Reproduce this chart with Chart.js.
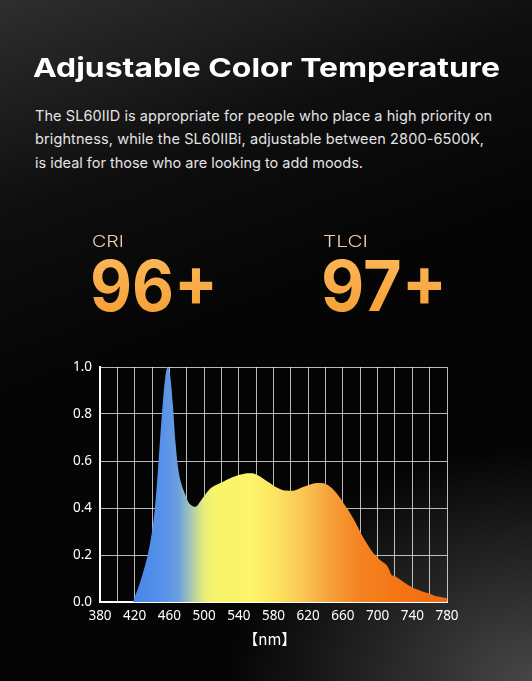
<!DOCTYPE html>
<html>
<head>
<meta charset="utf-8">
<script src="https://cdn.jsdelivr.net/npm/chart.js@4/dist/chart.umd.min.js"></script>
<style>
  html, body { margin: 0; padding: 0; }
  body {
    width: 532px; height: 681px; position: relative; overflow: hidden;
    background:
      linear-gradient(160deg, rgba(48,48,48,0.95) 0%, rgba(20,20,20,0.6) 25%, rgba(0,0,0,0) 45%),
      radial-gradient(ellipse 300px 230px at 100% 100%, rgba(78,78,78,0.9) 0%, rgba(0,0,0,0) 100%),
      #050505;
    font-family: Inter, "Noto Sans", sans-serif;
  }
  .t { position: absolute; white-space: nowrap; line-height: 1; transform-origin: 0 0; }
  #title { left: 33px; top: 55px; font-size: 26px; font-weight: 700; color: #fff; }
  .body { left: 35px; font-size: 14.5px; font-weight: 400; color: #e4e4e4; }
  .lbl { font-size: 16.5px; font-weight: 300; color: #ecd0aa; top: 233px; }
  .num { font-size: 70px; font-weight: 700; top: 251px;
         background: linear-gradient(180deg, #fcb95a 0%, #f59d33 100%);
         -webkit-background-clip: text; background-clip: text; color: transparent; }
  #chartBox { position: absolute; left: 0; top: 350px; width: 532px; height: 300px; }
</style>
</head>
<body>
<div class="t" id="title" data-w="467" data-fit="scale">Adjustable Color Temperature</div>
<div class="t body" style="top:109px" data-w="457" data-fit="space">The SL60IID is appropriate for people who place a high priority on</div>
<div class="t body" style="top:132.3px" data-w="449" data-fit="space">brightness, while the SL60IIBi, adjustable between 2800-6500K,</div>
<div class="t body" style="top:155.6px" data-w="328" data-fit="space">is ideal for those who are looking to add moods.</div>
<div class="t lbl" style="left:92px" data-w="32" data-fit="scale">CRI</div>
<div class="t lbl" style="left:323px" data-w="45" data-fit="scale">TLCI</div>
<div class="t num" style="left:90px" data-w="128" data-fit="scale">96+</div>
<div class="t num" style="left:321px" data-w="126" data-fit="scale">97+</div>
<div id="chartBox"><canvas id="c"></canvas></div>
<script>
// ---- data ----
const wavelengths = [418,420,425,430,435,440,443,446,449,452,455,458,461,464,467,470,474,478,482,486,489,492,496,500,505,510,515,520,525,530,535,540,545,550,555,560,565,570,575,580,585,590,595,600,605,610,615,620,625,630,635,640,645,650,655,660,665,670,675,680,685,690,695,700,705,710,713,716,720,725,730,735,740,745,750,755,760,765,770,775,780];
const intensity = [0,0.02,0.07,0.13,0.20,0.30,0.39,0.52,0.68,0.83,0.95,1.0,0.96,0.84,0.68,0.57,0.50,0.46,0.425,0.41,0.405,0.41,0.43,0.45,0.475,0.49,0.50,0.508,0.518,0.527,0.534,0.54,0.545,0.548,0.548,0.543,0.533,0.52,0.508,0.495,0.485,0.477,0.474,0.473,0.476,0.483,0.49,0.497,0.503,0.506,0.506,0.502,0.492,0.475,0.452,0.425,0.398,0.368,0.335,0.298,0.265,0.235,0.208,0.188,0.172,0.158,0.14,0.115,0.11,0.098,0.085,0.072,0.062,0.054,0.047,0.04,0.035,0.028,0.023,0.019,0.016];
const xTicksShown = [380,420,460,500,540,580,620,660,700,740,780];
const yTicks = [0,0.2,0.4,0.6,0.8,1.0];
const xAxisTitle = '【nm】';
const spectrumStops = [[420,'#4a86e8'],[450,'#5590ea'],[470,'#6b9fe0'],[480,'#93bac6'],[490,'#bcd79a'],[500,'#e8ee7a'],[512,'#f8f46c'],[555,'#fcf46a'],[590,'#fbde5e'],[620,'#f9bf50'],[650,'#f69c38'],[680,'#f58220'],[720,'#f47616'],[780,'#f26a12']];

// ---- fit text widths ----
document.querySelectorAll('[data-w]').forEach(el => {
  const target = parseFloat(el.dataset.w);
  const w = el.getBoundingClientRect().width;
  const n = el.textContent.length;
  if (el.dataset.fit === 'scale') {
    el.style.transform = 'scaleX(' + (target / w) + ')';
  } else if (n > 1) {
    el.style.letterSpacing = ((target - w) / (n - 1)) + 'px';
  }
});

function spectrumFill(ctx) {
  const chart = ctx.chart;
  const { chartArea, scales } = chart;
  if (!chartArea) return '#f8f46c';
  const x0 = scales.x.getPixelForValue(380), x1 = scales.x.getPixelForValue(780);
  const g = chart.ctx.createLinearGradient(x0, 0, x1, 0);
  spectrumStops.forEach(([nm, col]) => g.addColorStop((nm - 380) / 400, col));
  return g;
}

new Chart(document.getElementById('c'), {
  type: 'line',
  data: {
    datasets: [{
      data: wavelengths.map((w, i) => ({ x: w, y: intensity[i] })),
      borderWidth: 0,
      borderColor: 'rgba(0,0,0,0)',
      pointRadius: 0,
      fill: 'origin',
      backgroundColor: spectrumFill,
      cubicInterpolationMode: 'monotone'
    }]
  },
  options: {
    responsive: true,
    maintainAspectRatio: false,
    animation: false,
    layout: { padding: { top: 17, right: 85, left: 0, bottom: 0 } },
    plugins: { legend: { display: false }, tooltip: { enabled: false } },
    scales: {
      x: {
        type: 'linear', min: 380, max: 780,
        afterFit: s => { s.height = 48; },
        ticks: {
          stepSize: 20, autoSkip: false, maxRotation: 0, padding: 6,
          color: '#ffffff', font: { family: '"Noto Sans", sans-serif', size: 13.5 },
          callback: v => xTicksShown.includes(v) ? String(v) : ''
        },
        grid: { color: 'rgba(255,255,255,0.72)', lineWidth: 1, drawTicks: false },
        border: { color: '#ffffff', width: 2 },
        title: { display: true, text: xAxisTitle + '\u3000', color: '#ffffff',
                 font: { family: '"Noto Sans CJK SC", "Noto Sans", sans-serif', size: 15 },
                 padding: { top: 0, bottom: 2 } }
      },
      y: {
        min: 0, max: 1,
        afterFit: s => { s.width = 100; },
        afterBuildTicks: s => { s.ticks = yTicks.map(v => ({ value: v })); },
        ticks: {
          padding: 8, color: '#ffffff', font: { family: '"Noto Sans", sans-serif', size: 13.5 },
          callback: v => Number(v).toFixed(1)
        },
        grid: { color: 'rgba(255,255,255,0.72)', lineWidth: 1, drawTicks: false },
        border: { color: '#ffffff', width: 2 }
      }
    }
  }
});
</script>
</body>
</html>
